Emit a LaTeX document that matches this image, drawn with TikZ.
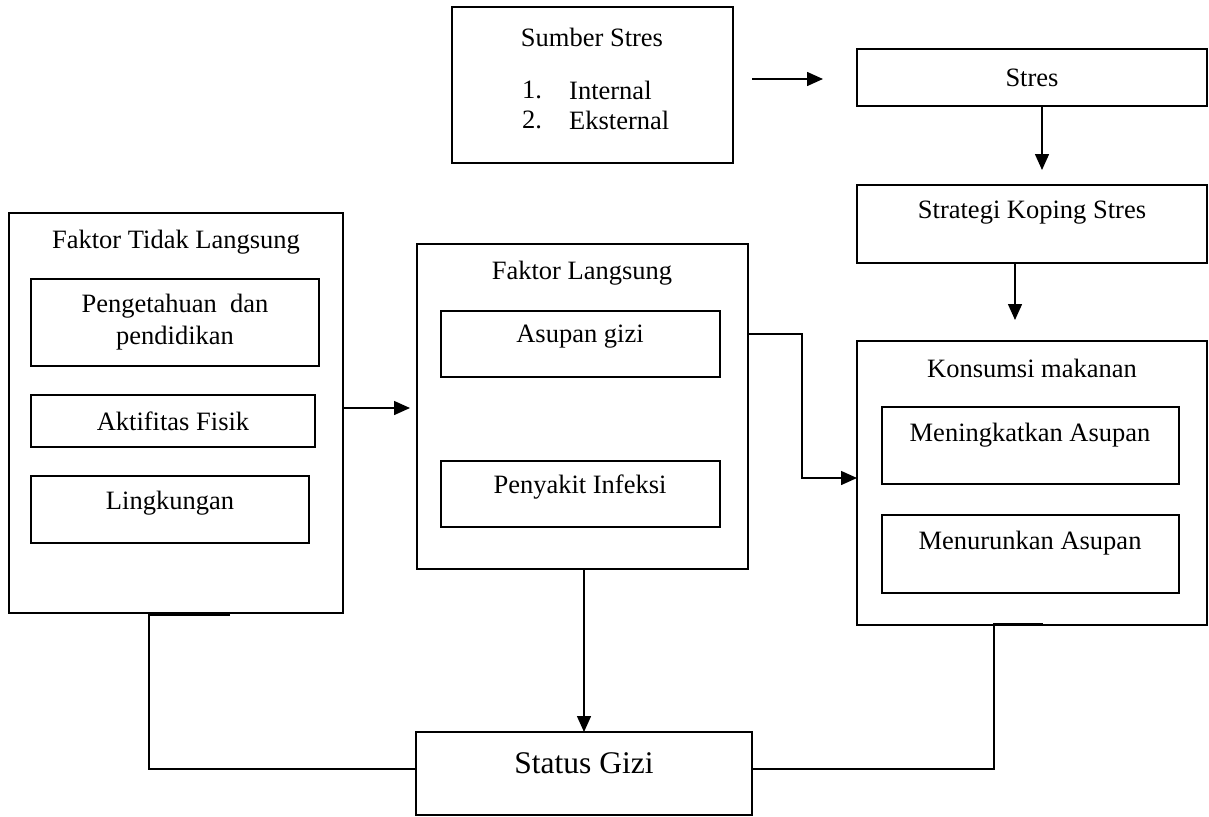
\documentclass[tikz,border=0pt]{standalone}
\usepackage{fontspec}
\setmainfont{Liberation Serif}
\usetikzlibrary{arrows.meta}
\begin{document}
\begin{tikzpicture}[x=1pt,y=-1pt,
  box/.style={draw=black,line width=1.8pt,inner sep=0pt,outer sep=0pt,anchor=north west},
  txt/.style={inner sep=0pt,font=\fontsize{26.5}{32}\selectfont,align=center},
  conn/.style={draw=black,line width=1.5pt},
  arr/.style={conn,-{Triangle[length=16pt,width=14pt]}}]
\useasboundingbox (0,0) rectangle (1209,816);
% boxes
\newcommand{\mybox}[5]{\node[box,minimum width={#4-#2},minimum height={#5-#3}] (#1) at (#2,#3) {};}
\mybox{sumber}{452}{7}{733}{163}
\mybox{stres}{857}{49}{1207}{106}
\mybox{strategi}{857}{185}{1207}{263}
\mybox{konsumsi}{857}{341}{1207}{625}
\mybox{menin}{882}{407}{1179}{484}
\mybox{menur}{882}{515}{1179}{593}
\mybox{ftl}{9}{213}{343}{613}
\mybox{penget}{31}{279}{319}{366}
\mybox{aktif}{31}{395}{315}{447}
\mybox{lingk}{31}{476}{309}{543}
\mybox{fl}{417}{244}{748}{569}
\mybox{asupan}{441}{311}{720}{377}
\mybox{penyakit}{441}{461}{720}{527}
\mybox{status}{416}{732}{752}{815}
% texts
\node[txt] (tsumber) at (592,37) {Sumber Stres};
\node[txt,anchor=west] (n1) at (522,90) {1.};
\node[txt,anchor=west] (i1) at (569,90) {Internal};
\node[txt,anchor=west] (n2) at (522,120) {2.};
\node[txt,anchor=west] (i2) at (569,120) {Eksternal};
\node[txt] (tstres) at (1032,78) {Stres};
\node[txt] (tstrat) at (1032,213) {Strategi Koping Stres};
\node[txt] (tkons) at (1032,368) {Konsumsi makanan};
\node[txt] (tmenin) at (1030,435) {Meningkatkan Asupan};
\node[txt] (tmenur) at (1030,543) {Menurunkan Asupan};
\node[txt] (tftl) at (176,242) {Faktor Tidak Langsung};
\node[txt] (tpenget) at (175,322) {Pengetahuan~~dan\\pendidikan};
\node[txt] (taktif) at (173,421) {Aktifitas Fisik};
\node[txt] (tlingk) at (170,503) {Lingkungan};
\node[txt] (tfl) at (582,273) {Faktor Langsung};
\node[txt] (tasupan) at (580,337) {Asupan gizi};
\node[txt] (tpeny) at (580,487) {Penyakit Infeksi};
\node[txt,font=\fontsize{31.5}{38}\selectfont] (tstatus) at (584,763) {Status Gizi};
% connector coordinates
\coordinate (a1) at (752,79);
\coordinate (a2) at (823,79);
\coordinate (b2) at (1042,170);
\coordinate (c2) at (1015,320);
\coordinate (d2) at (410,408);
\coordinate (l1) at (230,615);
\coordinate (r1) at (1043,624);
% connectors
\draw[arr] (a1) -- (a2);
\draw[arr] (stres.south -| b2) -- (b2);
\draw[arr] (strategi.south -| c2) -- (c2);
\draw[arr] (ftl.east |- d2) -- (d2);
\draw[arr] (fl.east |- 0,334) -- (802,334) |- (konsumsi.west |- 0,478);
\draw[arr] (fl.south -| status.north) -- (status.north);
\draw[conn] (l1) -- (149,615) |- (status.west |- 0,769);
\draw[conn] (r1) -- (994,624) |- (status.east |- 0,769);
\end{tikzpicture}
\end{document}
